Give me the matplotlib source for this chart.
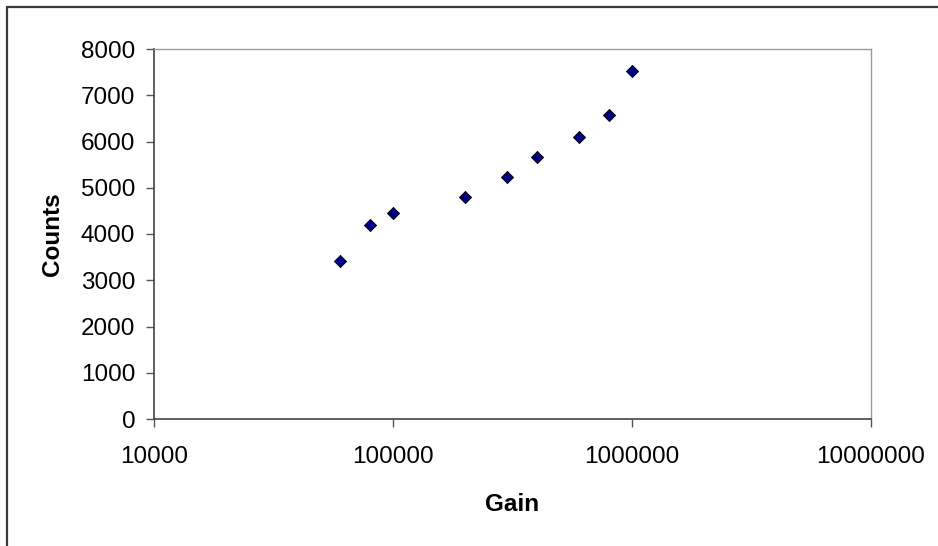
import matplotlib
matplotlib.use("Agg")
import matplotlib.pyplot as plt
from matplotlib.patches import Rectangle
from matplotlib.ticker import FixedLocator, NullLocator

plt.rcParams['font.family'] = ['Liberation Sans', 'DejaVu Sans']

gain = [60000, 80000, 100000, 200000, 300000, 400000, 600000, 800000, 1000000]
counts = [3420, 4190, 4460, 4810, 5240, 5660, 6100, 6570, 7520]

x_ticks = [10000, 100000, 1000000, 10000000]
y_ticks = [0, 1000, 2000, 3000, 4000, 5000, 6000, 7000, 8000]

fig = plt.figure(figsize=(9.38, 5.46), dpi=100)
ax = fig.add_axes([154 / 938, 1 - 419 / 546, 717 / 938, 370 / 546])

ax.scatter(gain, counts, marker='D', s=6.2 ** 2, facecolor='#000080',
           edgecolor='black', linewidth=0.6, zorder=3, clip_on=False)

ax.set_xscale('log')
ax.set_xlim(1e4, 1e7)
ax.set_ylim(0, 8000)
ax.xaxis.set_major_locator(FixedLocator(x_ticks))
ax.xaxis.set_minor_locator(NullLocator())
ax.set_xticklabels([str(v) for v in x_ticks])
ax.set_yticks(y_ticks)
ax.set_yticklabels([str(v) for v in y_ticks])

ax.tick_params(axis='both', labelsize=17.5, length=5.5, width=1.0,
               color='#555555', direction='out')
ax.tick_params(axis='y', pad=8)
ax.tick_params(axis='x', pad=14)

for side in ['left', 'bottom']:
    ax.spines[side].set_color('#444444')
    ax.spines[side].set_linewidth(1.2)
for side in ['top', 'right']:
    ax.spines[side].set_color('#9a9a9a')
    ax.spines[side].set_linewidth(1.0)

ax.set_xlabel('Gain', fontsize=17.5, fontweight='bold', labelpad=18)
ax.set_ylabel('Counts', fontsize=17.5, fontweight='bold', labelpad=12)

# chart-area frame running off the right and bottom edges
fig.patches.append(Rectangle((6.5 / 938, -0.1), 1.2, 1 - 6.5 / 546 + 0.1,
                             transform=fig.transFigure, fill=False,
                             edgecolor='#3a3a3a', linewidth=1.6))

fig.savefig('out.png', dpi=100)
